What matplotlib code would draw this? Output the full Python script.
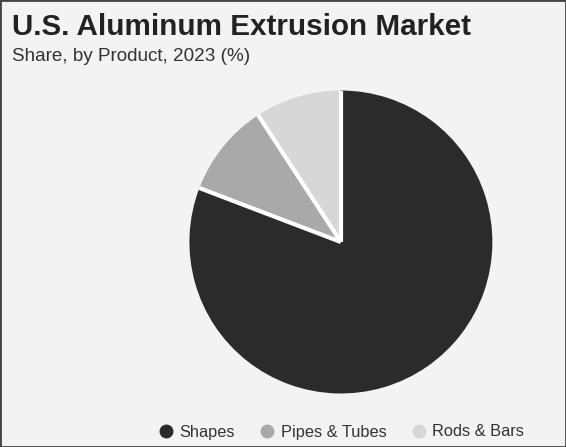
import matplotlib
matplotlib.use("Agg")
import numpy as np
import matplotlib.pyplot as plt
from matplotlib.lines import Line2D
from matplotlib.patches import Rectangle

# data
products = ["Shapes", "Pipes & Tubes", "Rods & Bars"]
shares = [80.8, 10.0, 9.2]
colors = ["#2b2b2b", "#a9a9a9", "#d7d7d7"]

plt.rcParams['font.family'] = ['Liberation Sans', 'DejaVu Sans']

fig = plt.figure(figsize=(5.66, 4.47), dpi=100, facecolor="#f3f3f3")

# border
fig.patches.append(Rectangle((0, 0), 1, 1, transform=fig.transFigure,
                             fill=False, edgecolor="#444444", linewidth=2))

ax = fig.add_axes([0.332, 0.1163, 0.5406, 0.6846])
wedges, _ = ax.pie(shares, colors=colors, startangle=90, counterclock=False,
                   radius=1, wedgeprops=dict(linewidth=0))

# white separators between slices only (no outer outline)
for w in wedges:
    a = np.deg2rad(w.theta2)
    ax.plot([0, np.cos(a)], [0, np.sin(a)], color="white", linewidth=3,
            solid_capstyle="butt")

ax.set_xlim(-1.01, 1.01)
ax.set_ylim(-1.01, 1.01)
ax.set_aspect("equal")
ax.axis("off")

fig.text(12 / 566, 1 - 35 / 447, "U.S. Aluminum Extrusion Market",
         fontsize=21.3, fontweight="bold", color="#222222")
fig.text(12 / 566, 1 - 61 / 447, "Share, by Product, 2023 (%)",
         fontsize=13.6, color="#333333")

handles = [Line2D([], [], marker="o", linestyle="none", markersize=9,
                  markerfacecolor=c, markeredgecolor=c) for c in colors]
fig.legend(handles, products, loc="center", bbox_to_anchor=(341 / 566, 1 - 432 / 447),
           ncol=3, frameon=False, fontsize=11.8, handlelength=1.0,
           handletextpad=0.3, columnspacing=1.5, labelcolor="#333333")

fig.savefig("out.png", dpi=100, facecolor=fig.get_facecolor())
